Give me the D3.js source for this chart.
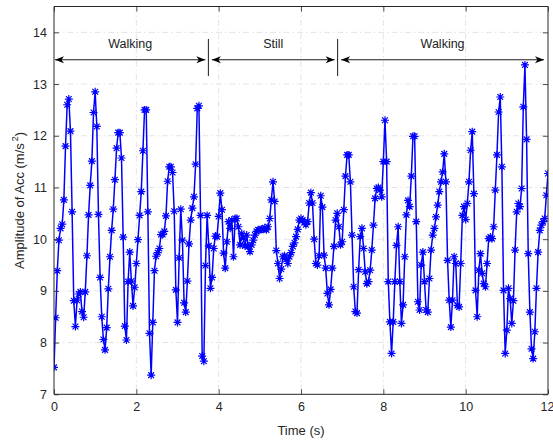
<!DOCTYPE html>
<html><head><meta charset="utf-8">
<script src="https://cdn.jsdelivr.net/npm/d3@7"></script>
<style>body{margin:0;background:#fff}svg text{font-family:"Liberation Sans",Arial,sans-serif}</style>
</head><body>
<svg id="c" width="553" height="443"></svg>
<script>
// ---- data ----
const sampleInterval = 0.04; // seconds between samples
const accValues = [
 7.52, 8.48, 9.39, 9.98, 10.21, 10.29, 10.76, 11.80, 12.60, 12.71, 12.09, 10.53, 8.81, 8.31, 8.82, 8.94, 8.98, 8.60, 8.49, 8.98,
 9.68, 10.47, 11.04, 11.51, 12.45, 12.85, 12.18, 10.48, 9.26, 8.50, 8.06, 7.86, 8.29, 9.04, 9.66, 10.17, 10.58, 11.15, 11.76, 12.06,
 12.06, 11.57, 10.04, 8.32, 8.05, 9.18, 9.75, 9.19, 8.71, 9.07, 9.53, 9.99, 10.46, 10.92, 11.71, 12.50, 12.50, 10.53, 8.18, 7.37,
 8.39, 9.39, 9.67, 9.74, 9.82, 10.09, 10.09, 10.15, 10.45, 11.12, 11.40, 11.40, 11.29, 10.54, 9.02, 8.39, 9.64, 10.58, 9.98, 8.77,
 8.59, 9.19, 9.91, 10.37, 10.60, 10.82, 11.45, 12.53, 12.58, 10.46, 7.74, 7.64, 9.49, 10.46, 9.87, 9.05, 9.26, 9.82, 10.06, 10.05,
 10.44, 10.89,
 10.57, 9.73, 9.44, 9.95, 10.34, 10.21, 10.37, 9.66, 10.40, 10.40, 10.24, 9.89, 10.11, 10.02, 9.87, 10.08, 9.86, 9.76, 9.89, 9.98,
 10.08, 10.15, 10.18, 10.18, 10.19, 10.19, 10.22, 10.18, 10.24, 10.40, 10.76, 11.11, 10.73, 9.78, 9.53, 9.24, 9.42, 9.66, 9.68, 9.61,
 9.53, 9.66, 9.74, 9.86, 9.93, 10.05, 10.19, 10.37, 10.40, 10.37, 10.32, 10.28, 10.34, 10.70, 10.90, 10.70, 10.00, 9.53, 9.50, 9.68,
 10.84, 10.62, 9.69, 9.44, 8.95, 8.73, 9.03, 9.44, 9.86, 10.37, 10.50, 10.24, 9.89, 9.95, 10.57, 11.22, 11.63, 11.63, 11.11, 10.08,
 9.08, 8.60, 8.57,
 9.41, 10.05, 10.21, 9.82, 9.37, 9.14, 9.18, 9.40, 9.79, 10.27, 10.79, 10.98, 11.00, 10.95, 10.82, 11.50, 12.30,
 11.50, 9.18, 8.40, 7.79, 8.40, 9.18, 9.88, 10.24, 9.18, 8.37, 8.73, 9.66, 10.47, 10.75, 10.63, 11.22, 11.99, 11.99,
 10.34, 8.79, 8.63, 9.50, 9.75, 9.18, 8.63, 8.59, 9.24, 9.79, 10.08, 10.21, 10.43, 10.66, 10.92, 11.11, 11.30, 11.65,
 11.11, 9.59, 8.82, 8.30, 8.82, 9.66, 9.53, 8.72, 8.69, 9.53, 10.46, 10.63, 10.38, 10.69, 11.11, 11.72, 12.08,
 10.88, 9.01, 8.50, 9.40, 9.72, 9.34, 9.14, 9.08, 9.53, 10.01, 10.04, 10.01, 10.24, 10.95, 11.63, 12.46, 12.75,
 11.40, 9.01, 7.79, 8.24, 9.05, 8.85, 8.37, 8.81, 9.79, 10.53, 10.69, 10.63, 10.98, 12.56, 13.37,
 11.93, 9.72, 8.59, 7.88, 7.69, 8.21, 9.05, 9.75, 10.17, 10.27, 10.34, 10.40, 10.85, 11.27
];
const xTicks = [0, 2, 4, 6, 8, 10, 12];
const yTicks = [7, 8, 9, 10, 11, 12, 13, 14];
const phaseNames = ["Walking", "Still", "Walking"];
const phaseStart = [0, 3.75, 6.89];
const phaseEnd = [3.75, 6.89, 12];
const arrowLevel = 13.47;
const xLabel = "Time (s)";
const yLabelMain = "Amplitude of Acc (m/s";
const yLabelSup = "2";

// ---- layout ----
const L = 54, R = 548, T = 6.5, B = 394.3;
const svg = d3.select("#c");
const x = d3.scaleLinear().domain([0, 12]).range([L, R]);
const y = d3.scaleLinear().domain([7, 14.5]).range([B, T]);
const axisCol = "#262626";

// grid
const g = svg.append("g");
g.selectAll(".gx").data(xTicks.slice(1, -1)).join("line")
  .attr("x1", d => x(d)).attr("x2", d => x(d)).attr("y1", T).attr("y2", B)
  .attr("stroke", "#dcdcdc").attr("stroke-width", 0.8).attr("stroke-dasharray", "6,3,1.5,3");
g.selectAll(".gy").data(yTicks.slice(1)).join("line")
  .attr("x1", L).attr("x2", R).attr("y1", d => y(d)).attr("y2", d => y(d))
  .attr("stroke", "#dcdcdc").attr("stroke-width", 0.8).attr("stroke-dasharray", "6,3,1.5,3");

// data line
const pts = accValues.map((v, i) => [i * sampleInterval, v]);
svg.append("clipPath").attr("id", "clip").append("rect")
  .attr("x", L).attr("y", T).attr("width", R - L).attr("height", B - T);
const dg = svg.append("g").attr("clip-path", "url(#clip)");
dg.append("path").datum(pts)
  .attr("d", d3.line().x(d => x(d[0])).y(d => y(d[1])))
  .attr("fill", "none").attr("stroke", "#0000ff").attr("stroke-width", 1.5);
const ms = 4.0, md = ms * 0.72;
const star = `M${-ms},0L${ms},0M0,${-ms}L0,${ms}M${-md},${-md}L${md},${md}M${-md},${md}L${md},${-md}`;
dg.selectAll(".m").data(pts).join("path")
  .attr("transform", d => `translate(${x(d[0])},${y(d[1])})`)
  .attr("d", star).attr("stroke", "#0000ff").attr("stroke-width", 1.2).attr("fill", "none");

// axes
const ax = svg.append("g").attr("transform", `translate(0,${B})`)
  .call(d3.axisBottom(x).tickValues(xTicks).tickSize(-5).tickPadding(8).tickFormat(d3.format("d")));
const ax2 = svg.append("g").attr("transform", `translate(0,${T})`)
  .call(d3.axisTop(x).tickValues(xTicks).tickSize(-5).tickFormat(""));
const ay = svg.append("g").attr("transform", `translate(${L},0)`)
  .call(d3.axisLeft(y).tickValues(yTicks).tickSize(-5).tickPadding(7).tickFormat(d3.format("d")));
const ay2 = svg.append("g").attr("transform", `translate(${R},0)`)
  .call(d3.axisRight(y).tickValues(yTicks).tickSize(-5).tickFormat(""));
[ax, ax2, ay, ay2].forEach(a => {
  a.select(".domain").attr("stroke", axisCol).attr("stroke-width", 1);
  a.selectAll(".tick line").attr("stroke", axisCol).attr("stroke-width", 0.8);
  a.selectAll(".tick text").attr("fill", axisCol).attr("font-size", 12.5)
    .attr("font-family", '"Liberation Sans",Arial,sans-serif');
});
ax.selectAll(".domain").attr("d", `M${L},0H${R}`);
ax2.selectAll(".domain").attr("d", `M${L},0H${R}`);
ay.selectAll(".domain").attr("d", `M0,${T}V${B}`);
ay2.selectAll(".domain").attr("d", `M0,${T}V${B}`);
// keep the last x label inside the page
ax.selectAll(".tick text").filter(d => d === 12).attr("text-anchor", "end").attr("dx", 6);

// axis labels
svg.append("text").attr("x", (L + R) / 2).attr("y", 435).attr("text-anchor", "middle")
  .attr("font-size", 13).attr("fill", axisCol).text(xLabel);
const yl = svg.append("text").attr("transform", `translate(24,${(T + B) / 2}) rotate(-90)`)
  .attr("text-anchor", "middle").attr("font-size", 13).attr("fill", axisCol);
yl.append("tspan").text(yLabelMain);
yl.append("tspan").attr("font-size", 9).attr("dy", -6).attr("dx", 2).text(yLabelSup);
yl.append("tspan").attr("dy", 6).text(")");

// phase annotations
const ay0 = y(arrowLevel);
const head = (xt, dir) => {
  const len = 9, hw = 3.6, notch = 2.5;
  return `M${xt},${ay0}L${xt + dir * len},${ay0 - hw}L${xt + dir * (len - notch)},${ay0}L${xt + dir * len},${ay0 + hw}Z`;
};
const ann = svg.append("g");
phaseNames.forEach((name, i) => {
  const x0 = x(phaseStart[i]) + (i === 0 ? 1 : 3.5);
  const x1 = x(phaseEnd[i]) - (i === phaseNames.length - 1 ? 4 : 3);
  ann.append("line").attr("x1", x0).attr("x2", x1).attr("y1", ay0).attr("y2", ay0)
    .attr("stroke", "#000").attr("stroke-width", 0.9);
  ann.append("path").attr("d", head(x0, 1)).attr("fill", "#000");
  ann.append("path").attr("d", head(x1, -1)).attr("fill", "#000");
  ann.append("text").attr("x", (x0 + x1) / 2).attr("y", 48).attr("text-anchor", "middle")
    .attr("font-size", 12.5).attr("fill", "#222").text(name);
});
phaseStart.slice(1).forEach(s => {
  ann.append("line").attr("x1", x(s)).attr("x2", x(s)).attr("y1", 39).attr("y2", 76)
    .attr("stroke", "#000").attr("stroke-width", 0.9);
});
</script>
</body></html>
